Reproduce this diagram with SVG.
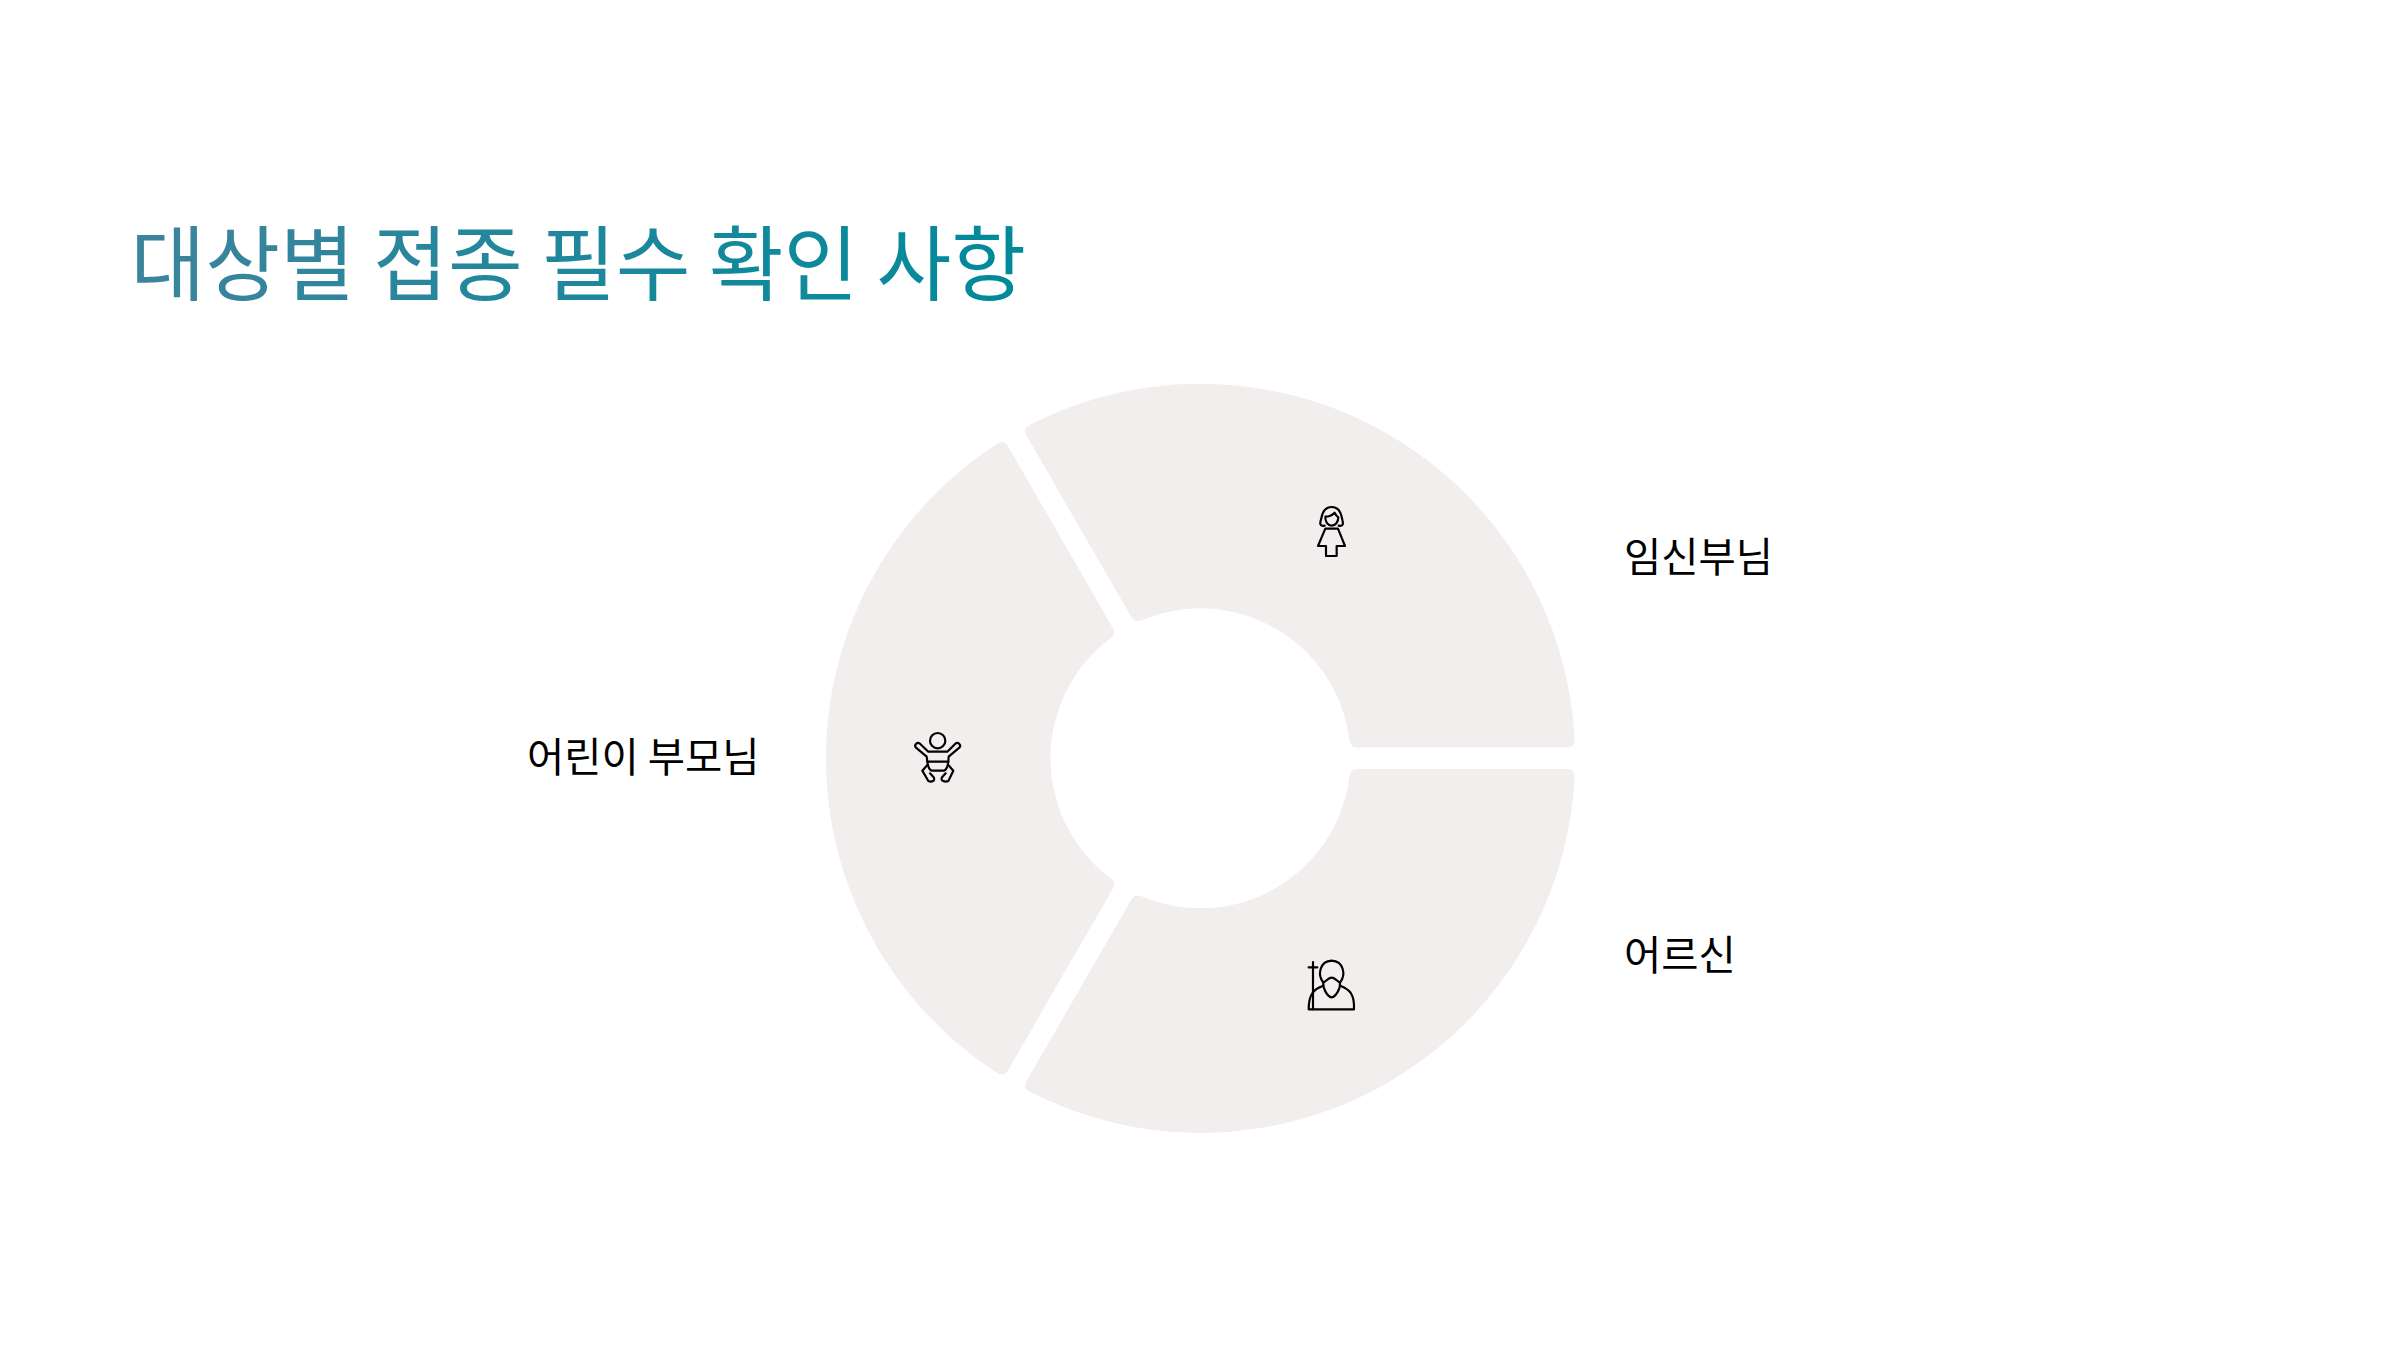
<svg xmlns="http://www.w3.org/2000/svg" xmlns:xlink="http://www.w3.org/1999/xlink" width="2400" height="1350" viewBox="0 0 2400 1350">
<style>
.label{font-family:"Noto Sans CJK KR","Noto Sans",sans-serif;font-size:40.5px;fill:#000}
.title{font-family:"Noto Sans CJK KR","Noto Sans",sans-serif;font-size:81.3px}
.seg{fill:#f1eeed}
.ico{fill:none;stroke:#000;stroke-width:6.5;stroke-linejoin:round;stroke-linecap:round}
</style>
<defs>
<linearGradient id="tg" gradientUnits="userSpaceOnUse" x1="133" y1="0" x2="1022" y2="0">
<stop offset="0" stop-color="#3d849c"/><stop offset="1" stop-color="#008a9b"/>
</linearGradient>
<path id="segment" class="seg" d="M157.6,-10.7 L366.35,-10.7 Q374.35,-10.7 374.03,-18.67 A374.5,374.5 0 0 0 -170.85,-333.27 Q-177.91,-329.55 -173.91,-322.62 L-69.53,-141.84 Q-65.53,-134.91 -58.25,-138.2 A150,150 0 0 1 148.83,-18.67 Q149.6,-10.7 157.6,-10.7 Z"/>
</defs>
<rect width="2400" height="1350" fill="#fff"/>
<text id="title" class="title" x="130.5" y="294" fill="url(#tg)">대상별 접종 필수 확인 사항</text>
<g id="node-pregnant">
<use xlink:href="#segment" href="#segment" transform="translate(1200.5 758.3)"/>
<g class="ico" transform="translate(1280 480) scale(.3333)">
<path d="M134,137 C118,140 119,130 124,115 C128,92 138,81 155,81 C172,81 182,92 186,115 C190,130 192,140 176,137"/>
<path d="M136,110 C148,110 156,106 164,98 C168,106 172,110 175,112 C175,126 166,137 155,137 C144,137 135,126 136,110 Z"/>
<path d="M136,146 L174,146 L195,198 L170,198 L170,228 L138,228 L138,198 L114,198 Z"/>
</g>
</g>
<g id="node-elderly">
<use xlink:href="#segment" href="#segment" transform="translate(1200.5 758.3) rotate(120)"/>
<g class="ico" transform="translate(1280 940) scale(.3333)">
<path d="M99,66 L99,208 M86,82 L112,82"/>
<path d="M130,128 C112,105 118,64 155,62 C192,64 198,105 180,128"/>
<path d="M130,128 C138,124 146,112 155,113 C164,112 172,124 180,128 C182,145 168,170 155,172 C142,170 128,145 130,128 Z"/>
<path d="M128,138 C100,148 86,165 86,208 L222,208 C224,165 210,148 182,138"/>
</g>
</g>
<g id="node-parents">
<use xlink:href="#segment" href="#segment" transform="translate(1200.5 758.3) rotate(240)"/>
<g class="ico" transform="translate(890 710) scale(.3333)">
<circle cx="143" cy="92" r="23"/>
<path d="M115,125 L172,125 L196,101 C205,95 215,105 208,113 L176,140 L175,155 L112,155 L110,140 L78,113 C71,105 81,95 90,101 Z"/>
<path d="M112,155 C114,170 118,180 125,182 L162,182 C169,180 173,170 175,155"/>
<path d="M112,165 L97,182 L115,213 C125,217 137,213 131,202 L120,190 M175,165 L190,182 L175,213 C165,217 150,213 156,202 L167,190"/>
</g>
</g>
<text class="label" x="1624" y="572">임신부님</text>
<text class="label" x="527" y="772">어린이 부모님</text>
<text class="label" x="1624" y="970">어르신</text>
</svg>
